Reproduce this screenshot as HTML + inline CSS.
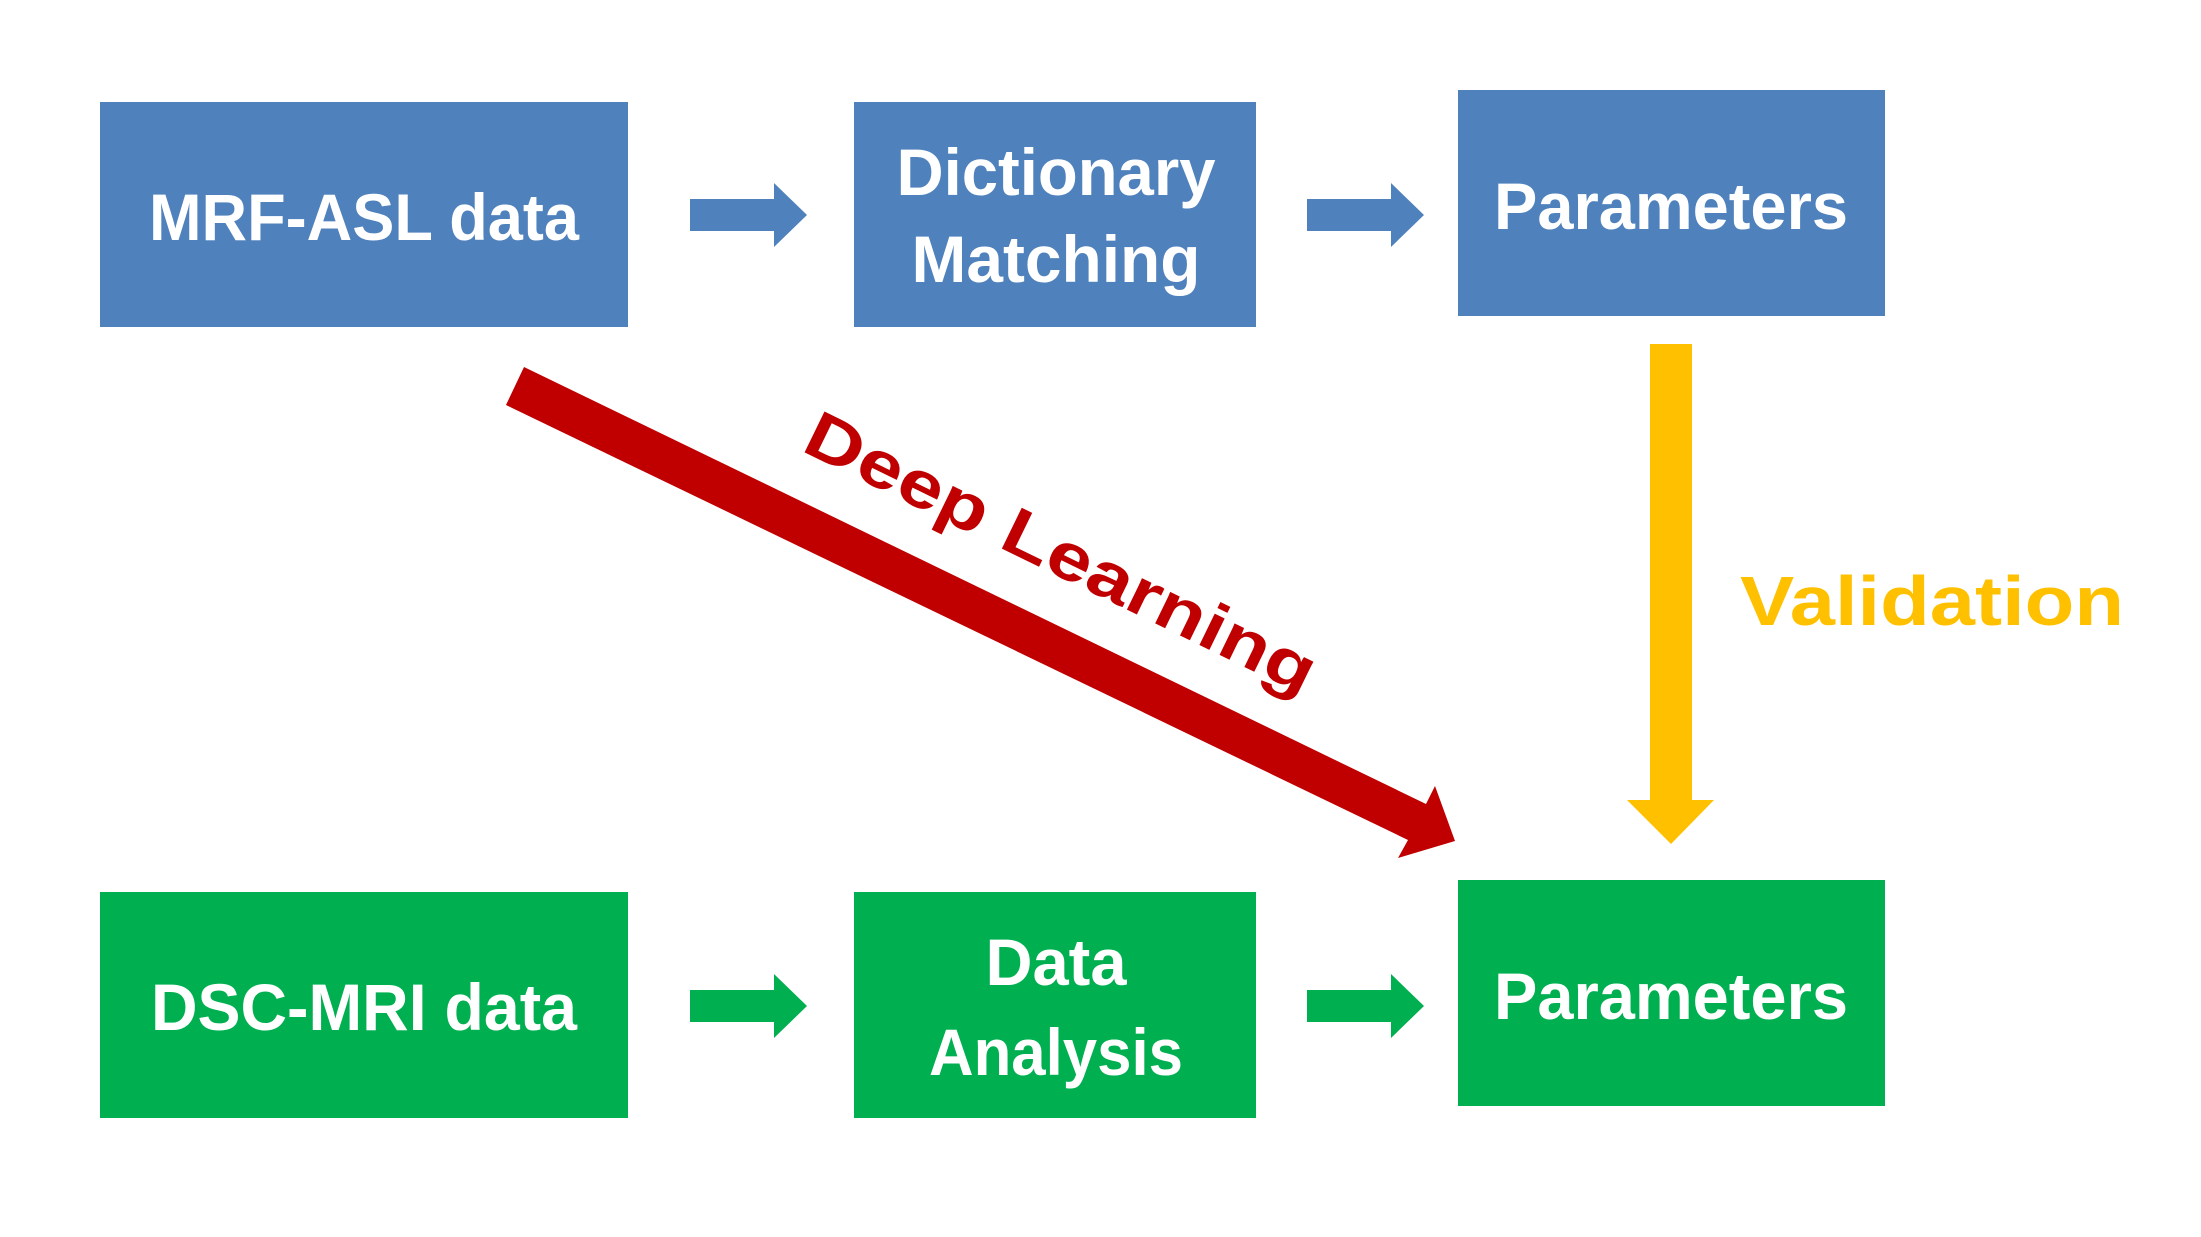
<!DOCTYPE html>
<html><head><meta charset="utf-8"><style>html,body{margin:0;padding:0;background:#fff}svg{display:block}</style></head>
<body>
<svg width="2201" height="1237" viewBox="0 0 2201 1237" xmlns="http://www.w3.org/2000/svg" font-family="Liberation Sans, sans-serif" font-weight="bold">
<rect x="100" y="102" width="528" height="225" fill="#4F81BD"/>
<rect x="854" y="102" width="402" height="225" fill="#4F81BD"/>
<rect x="1458" y="90" width="427" height="226" fill="#4F81BD"/>
<rect x="100" y="892" width="528" height="226" fill="#00B050"/>
<rect x="854" y="892" width="402" height="226" fill="#00B050"/>
<rect x="1458" y="880" width="427" height="226" fill="#00B050"/>
<g fill="#4F81BD">
<polygon points="690,199 774,199 774,183 807,215 774,247 774,231 690,231"/>
<polygon points="1307,199 1391,199 1391,183 1424,215 1391,247 1391,231 1307,231"/>
</g>
<g fill="#00B050">
<polygon points="690,990 774,990 774,974 807,1006 774,1038 774,1022 690,1022"/>
<polygon points="1307,990 1391,990 1391,974 1424,1006 1391,1038 1391,1022 1307,1022"/>
</g>
<polygon points="1650,344 1692,344 1692,800 1714,800 1671,844 1627,800 1650,800" fill="#FFC000"/>
<polygon points="524,367 1426,804 1435,786 1455,841 1398,858 1408,840 506,405" fill="#C00000"/>
<g fill="#fff" font-size="66">
<text x="364" y="240" text-anchor="middle" textLength="430" lengthAdjust="spacingAndGlyphs">MRF-ASL data</text>
<text x="1056" y="195" text-anchor="middle" textLength="319" lengthAdjust="spacingAndGlyphs">Dictionary</text>
<text x="1056" y="282" text-anchor="middle" textLength="289" lengthAdjust="spacingAndGlyphs">Matching</text>
<text x="1671" y="229" text-anchor="middle" textLength="354" lengthAdjust="spacingAndGlyphs">Parameters</text>
<text x="364" y="1030" text-anchor="middle" textLength="426" lengthAdjust="spacingAndGlyphs">DSC-MRI data</text>
<text x="1056" y="985" text-anchor="middle" textLength="141" lengthAdjust="spacingAndGlyphs">Data</text>
<text x="1056" y="1075" text-anchor="middle" textLength="254" lengthAdjust="spacingAndGlyphs">Analysis</text>
<text x="1671" y="1019" text-anchor="middle" textLength="354" lengthAdjust="spacingAndGlyphs">Parameters</text>
</g>
<text x="1740" y="625" font-size="70" fill="#FFC000" textLength="384" lengthAdjust="spacingAndGlyphs">Validation</text>
<text transform="translate(1061,553) rotate(26)" x="0" y="22" text-anchor="middle" font-size="66" fill="#C00000" textLength="560" lengthAdjust="spacingAndGlyphs">Deep Learning</text>
</svg>
</body></html>
